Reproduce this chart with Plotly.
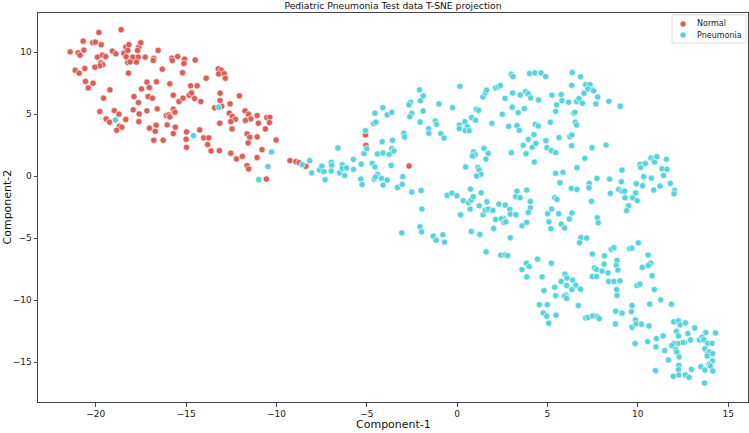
import plotly.graph_objects as go

# ---- data ----
normal_x = [
    -19.83, -18.60, -20.70, -20.17, -20.02, -19.70, -21.42, -20.98, -20.87, -20.66,
    -19.91, -19.63, -19.45, -19.72, -19.61, -19.78, -20.05, -19.08, -18.89, -18.45,
    -18.34, -18.17, -18.23, -18.32, -17.95, -17.62, -17.51, -17.69, -17.65, -17.75,
    -18.23, -18.10, -17.27, -16.79, -16.82, -16.55, -15.79, -15.77, -15.47, -15.09,
    -15.12, -14.50, -16.32, -15.20, -21.14, -20.92, -20.61, -18.19, -20.57, -20.15,
    -20.42, -19.22, -19.57, -17.17, -17.47, -17.04, -16.64, -15.90, -17.89, -17.64,
    -17.10, -16.86, -15.71, -14.75, -14.39, -19.78, -18.98, -18.72, -19.43, -19.24,
    -18.34, -18.69, -18.85, -18.56, -17.93, -17.60, -17.17, -17.62, -16.60, -16.10,
    -15.97, -15.90, -15.71, -15.62, -17.03, -16.66, -16.71, -16.05, -15.60, -15.71,
    -16.79, -16.27, -15.40, -15.17, -14.83, -14.70, -14.98, -15.00, -14.98, -14.53,
    -13.89, -13.22, -13.06, -13.20, -12.89, -12.83,
    -14.19, -13.12, -13.12, -13.03, -12.05, -13.42, -12.57, -12.61, -12.44, -12.27,
    -12.53, -13.14, -12.46, -14.25, -11.74, -11.55, -11.42, -11.72, -11.07, -11.00,
    -10.54, -10.37, -10.39, -10.61, -11.63, -11.48, -11.07, -11.57, -10.02, -14.03,
    -13.75, -13.81, -13.62, -13.16, -12.53, -12.22, -11.89, -11.07, -10.80, -11.63,
    -11.54, -10.56, -9.25, -8.93, -8.75, -8.38, -5.05, -5.07, -2.66,
]
normal_y = [
    11.60, 11.82, 10.90, 10.77, 10.82, 10.61, 10.04, 9.96, 9.77, 10.18,
    9.61, 9.77, 9.66, 9.15, 8.99, 8.91, 8.80, 10.10, 9.88, 9.93,
    10.42, 10.61, 10.15, 9.64, 9.61, 10.42, 10.77, 10.15, 9.61, 9.21,
    9.18, 9.23, 9.61, 9.50, 9.34, 10.15, 9.53, 9.34, 9.66, 9.45,
    9.10, 9.38, 8.64, 8.35, 8.56, 8.32, 8.70, 8.32, 7.65, 7.51,
    7.13, 6.97, 6.30, 7.59, 7.05, 7.16, 7.62, 7.46, 6.43, 5.95,
    6.43, 6.30, 6.54, 7.30, 7.30, 5.22, 5.30, 5.01, 4.63, 4.36,
    4.58, 4.04, 3.71, 3.96, 5.36, 5.03, 5.28, 4.41, 5.44, 4.90,
    4.95, 4.79, 5.41, 5.17, 3.88, 4.12, 3.63, 4.15, 3.96, 3.45,
    2.91, 2.91, 6.03, 6.30, 6.54, 6.73, 3.58, 2.99, 2.34, 6.27,
    7.91, 8.67, 8.56, 8.26, 8.26, 7.91,
    6.03, 6.70, 6.11, 5.65, 6.49, 5.52, 5.84, 5.09, 4.83, 4.60,
    4.41, 4.28, 3.82, 3.74, 5.28, 5.01, 4.63, 4.50, 4.90, 4.28,
    4.74, 4.76, 4.33, 3.82, 3.42, 3.15, 3.18, 2.69, 2.93, 3.10,
    3.10, 2.56, 2.05, 2.07, 1.86, 1.40, 1.61, 1.51, 2.15, 0.86,
    0.59, -0.22, 1.26, 1.18, 1.10, 0.81, 2.50, 3.34, 0.83,
]

pneu_x = [
    -18.91, -14.59,
    -13.20, -10.28, -10.48, -10.98, -8.58, -8.16, -8.05, -7.62, -7.49, -7.38,
    -7.31, -6.97, -6.94, -6.97, -6.60, -6.51, -6.36, -6.35, -6.12, -6.22,
    -5.74, -5.74, -5.31, -5.33, -5.26, -5.16, -5.07, -5.00, -4.70, -4.55,
    -4.63, -4.50, -4.55, -4.41, -4.59, -4.41, -4.52,
    -4.11, -3.87, -3.62, -4.15, -3.58, -4.10, -3.76, -3.62, -3.50, -3.65,
    -4.19, -3.87, -4.10, -3.01, -3.30, -3.04, -2.95, -2.91, -2.08, -1.88,
    -2.03, -2.58, -2.67, -2.51, -2.62, -1.88, -2.05, -1.01, -1.21, -1.14,
    -1.58, -1.57, -0.90, -0.73, -0.25, 0.15, 0.12, 0.12, 0.43, 0.56,
    0.45, 0.67, 0.80, 1.02, 1.06, 1.19, 1.43, 1.56, 1.63, 1.92,
    2.13, 2.29, 2.39, 2.65, 2.50, 2.85, 3.07, 3.05, 3.31, 3.38,
    3.44, 3.49, 3.72, 3.79, 3.94, 4.07, 4.01, 4.31, 4.64, 4.90,
    3.00, 3.09, 4.51, 4.33, 4.49, 4.25, 3.94, 3.66, 4.16, 4.36,
    4.27, 3.81, 3.00, 0.91, 1.00, 0.85, 1.48, 1.72, 1.59, 0.47,
    1.15, 1.22, 1.32, 1.08, 0.74, 4.92, 4.97, 5.21, 5.16, 5.25,
    5.45, 5.51, 5.64, 5.45, 5.45,
    6.37, 6.83, 6.34, 7.11, 7.35, 7.24, 7.50, 7.56, 7.02, 5.76,
    5.80, 6.17, 6.61, 6.74, 6.93, 7.78, 7.68, 8.40, 9.03, 6.45,
    6.52, 6.54, 6.61, 6.24, 6.35, 6.34, 7.46, 8.24, 7.07, 6.63,
    5.86, 5.69, 6.32, 6.63, 7.31, 7.30, 7.74, 8.44, 8.48, 9.12,
    9.09, 8.94, 9.12, 9.27, 9.29, 9.72, 9.88, 9.92, 10.27, 10.12,
    10.16, 10.42, 10.33, 10.73, 10.88, 10.93, 11.06, 10.75, 10.88, 11.23,
    11.34, 11.43, 11.58, 11.62, 11.80, 12.04, 12.01,
    -2.51, -1.99, -0.55, -0.29, -0.01, 0.34, 0.63, 0.78, 0.89, 1.33,
    1.65, 1.22, 0.72, 0.19, 1.43, 1.56, 1.72, 1.98, 2.31, 2.66,
    2.92, 2.94, 3.24, 3.48, 3.31, 3.85, 4.05, 4.05, 3.94, 3.25,
    2.57, 2.44, 2.13, 2.59, 2.70, 2.02, 0.78, 1.26, 2.94, 3.59,
    3.85, -1.95, -2.06, -1.97, -3.06, -1.32, -1.16, -0.79, -0.70, 1.61,
    2.42, 2.66, 2.79, 3.83, 3.99, 3.59, 3.85, 4.45, 5.21, 4.70,
    5.01, 5.23, 5.40, 5.53, 5.62, 5.08, 5.19, 4.81, 5.40, 5.45,
    4.55, 4.99,
    7.44, 9.49, 9.97, 9.38, 6.35, 6.21, 5.76, 5.95, 7.76, 7.81,
    6.85, 7.17, 6.78, 7.48, 8.16, 8.13, 8.53, 8.68, 8.85, 8.81,
    8.90, 9.55, 9.68, 10.03, 10.57, 10.71, 10.58, 10.25, 10.79, 7.60,
    7.72, 8.02, 8.35, 7.48, 7.72, 8.39, 8.68, 9.01, 8.83, 8.85,
    9.96, 10.12, 10.92, 11.27, 11.86, 10.66, 9.68, 5.97, 6.08, 6.39,
    6.56, 6.35, 6.06, 5.76, 6.83, 6.02, 5.95, 6.06, 6.71,
    4.77, 4.96, 5.07, 5.47, 7.12, 7.25, 7.50, 7.76, 7.87, 8.78,
    9.13, 9.65, 8.76, 9.68, 9.87, 9.90, 10.20, 10.62, 9.85, 10.55,
    11.03, 11.01, 11.40, 11.49, 11.70, 10.98, 11.99, 12.25, 12.34, 12.64,
    12.14, 12.25, 12.77, 13.15, 12.91, 12.60, 12.49, 12.21, 11.99, 11.88,
    12.10, 12.16, 12.29, 12.27, 12.25, 12.27, 11.97, 12.64, 12.84, 12.97,
    13.41, 13.56, 13.65, 13.76, 13.87, 14.11, 14.30, 13.71, 13.86, 13.99,
    14.15, 13.84, 14.13, 13.95, 14.02, 13.49, 13.71, 14.15, 13.69,
]
pneu_y = [
    4.55, 3.28,
    5.57, 1.96, 0.78, -0.27, 0.94, 1.26, 0.27, 0.51, 0.81, 0.38,
    -0.27, 1.13, 0.89, 0.43, 2.29, 0.27, 0.94, 0.64, 0.67, 0.05,
    1.37, 0.56, 0.99, -0.22, -0.67, 1.83, 3.69, 2.23, 1.05, 0.75,
    4.25, 4.36, 5.09, 1.80, -0.22, 0.16, -0.06,
    5.54, 4.95, 5.16, 2.79, 2.90, 1.88, 1.77, 2.23, 2.04, 0.88,
    -0.17, -0.30, -0.71, -0.03, -0.90, -0.65, 3.49, 3.17, 6.97, 6.48,
    6.10, 5.97, 5.76, 5.08, 4.81, 5.27, 4.38, 5.84, 4.46, 4.19,
    3.84, 3.47, 3.44, 3.09, 5.54, 7.26, 4.14, 3.84, 4.41, 4.00,
    3.68, 3.68, 4.73, 4.52, 5.41, 5.32, 6.40, 6.72, 6.94, 4.27,
    7.13, 7.21, 7.32, 6.29, 5.00, 4.03, 6.72, 5.57, 4.09, 5.14,
    3.71, 6.56, 5.46, 6.83, 6.64, 6.32, 8.29, 8.34, 8.34, 8.04,
    8.23, 8.04, 6.16, 4.19, 4.06, 3.36, 2.98, 2.50, 2.34, 2.66,
    1.15, 1.82, 1.90, 1.96, 1.74, 1.64, 2.26, 1.85, 1.39, 0.75,
    0.72, 0.51, 0.16, 0.02, -1.03, 2.87, 2.31, 2.07, 4.36, 6.54,
    5.24, 5.76, 3.12, 1.91, 0.24,
    8.37, 8.02, 7.34, 7.40, 7.40, 7.05, 6.97, 6.89, 6.70, 6.59,
    6.10, 5.97, 6.02, 6.27, 5.89, 6.40, 5.84, 6.05, 5.65, 5.08,
    5.16, 4.36, 4.14, 3.20, 3.33, 2.47, 2.31, 2.52, 1.45, 0.69,
    0.32, -0.52, -0.98, -1.06, -0.57, -0.92, -0.17, -0.22, -1.38, 0.50,
    -0.44, -1.06, -1.19, -1.19, -1.73, -1.73, -1.33, -0.60, -0.76, 0.96,
    0.72, 1.04, -0.03, 1.47, 1.31, 1.15, 1.58, -0.14, -1.11, -0.79,
    0.61, 0.07, 1.37, 0.56, -0.57, -1.14, -1.41,
    -1.27, -1.14, -1.54, -1.35, -1.57, -1.97, -2.13, -1.92, -1.65, -1.33,
    -2.05, -2.38, -2.64, -3.10, -3.10, -2.73, -2.64, -2.75, -2.24, -2.32,
    -2.67, -3.05, -1.65, -1.73, -1.19, -1.11, -2.03, -2.54, -2.91, -3.10,
    -3.40, -3.43, -3.48, -3.72, -3.67, -4.21, -4.45, -4.69, -4.96, -3.99,
    -3.72, -2.64, -4.07, -4.48, -4.56, -4.83, -5.15, -4.72, -5.31, -6.09,
    -6.36, -6.33, -6.39, -7.01, -7.28, -7.52, -8.11, -6.68, -7.01, -8.11,
    -3.02, -2.64, -1.73, -1.86, -3.02, -3.67, -4.23, -9.21, -8.95, -9.62,
    -10.35, -10.35,
    -2.02, -2.39, -1.96, -2.77, -2.96, -3.44, -3.85, -4.17, -3.34, -3.74,
    -4.93, -4.98, -5.36, -6.27, -6.41, -7.08, -5.89, -5.76, -6.78, -7.19,
    -7.56, -5.84, -5.79, -5.36, -6.35, -7.00, -7.19, -7.35, -8.02, -7.38,
    -7.51, -7.64, -7.78, -8.08, -8.08, -8.48, -8.48, -8.43, -9.13, -9.61,
    -8.80, -8.70, -9.13, -9.96, -10.31, -10.31, -10.42, -7.89, -8.21, -8.37,
    -8.78, -9.13, -8.80, -8.48, -9.10, -9.56, -9.66, -9.85, -10.42,
    -11.02, -11.28, -11.85, -11.20, -11.42, -11.39, -11.26, -11.31, -11.47, -10.88,
    -11.04, -10.91, -11.90, -12.17, -11.58, -11.90, -11.93, -12.07, -13.49, -13.33,
    -13.09, -13.76, -12.87, -14.06, -14.81, -15.67, -11.74, -11.66, -11.98, -11.82,
    -12.50, -12.87, -12.68, -12.23, -13.20, -13.41, -13.41, -13.49, -13.49, -13.65,
    -13.95, -14.17, -14.57, -15.24, -15.59, -16.02, -16.13, -16.02, -16.21, -15.57,
    -13.20, -12.98, -13.17, -12.60, -13.47, -13.47, -12.63, -13.90, -14.25, -14.17,
    -14.30, -14.49, -14.89, -15.16, -15.30, -15.35, -15.62, -15.70, -16.67,
]

x_ticks = [-20, -15, -10, -5, 0, 5, 10, 15]
y_ticks = [-15, -10, -5, 0, 5, 10]
series_names = ["Normal", "Pneumonia"]

RED = "#db5f57"
CYAN = "#57d3db"
COLORS = [RED, CYAN]
FONT = "DejaVu Sans"

W, H = 749, 433
ML, MR, MT, MB = 38, 1, 13, 31
PW, PH = W - ML - MR, H - MT - MB


def px_x(p):  # pixel -> paper x
    return (p - ML) / PW


def px_y(p):  # pixel -> paper y
    return (H - MB - p) / PH


fig = go.Figure()
for name, xs, ys, col in zip(series_names, [normal_x, pneu_x], [normal_y, pneu_y], COLORS):
    fig.add_trace(go.Scatter(
        x=xs, y=ys, mode="markers", name=name,
        marker=dict(color=col, size=6.3, line=dict(color="white", width=0.6)),
    ))

axis_common = dict(
    showgrid=False, zeroline=False, showline=True, linecolor="#444", linewidth=1,
    mirror=True, ticks="outside", ticklen=3.5, tickwidth=0.8, tickcolor="#444",
    tickfont=dict(family=FONT, size=9, color="#222"),
)

# legend (matplotlib-style compact box)
shapes = [dict(type="rect", xref="paper", yref="paper",
               x0=px_x(672), x1=px_x(746), y0=px_y(43), y1=px_y(15),
               line=dict(color="#d4d4d4", width=0.8), fillcolor="white", layer="above")]
annotations = []
for i, (name, col) in enumerate(zip(series_names, COLORS)):
    cy = 24 + 11 * i
    shapes.append(dict(type="circle", xref="paper", yref="paper",
                       xsizemode="pixel", ysizemode="pixel",
                       xanchor=px_x(683), yanchor=px_y(cy),
                       x0=-3, x1=3, y0=-3, y1=3,
                       fillcolor=col, line=dict(color="white", width=0.5), layer="above"))
    annotations.append(dict(text=name, xref="paper", yref="paper",
                            x=px_x(695), y=px_y(cy), xanchor="left", yanchor="middle",
                            showarrow=False, font=dict(family=FONT, size=8, color="#222")))

annotations += [
    dict(text="Component-1", xref="paper", yref="paper", x=0.5, y=0,
         yshift=-22, xanchor="center", yanchor="middle", showarrow=False,
         font=dict(family=FONT, size=11, color="#111")),
    dict(text="Component-2", xref="paper", yref="paper", x=0, y=0.5,
         xshift=-31, xanchor="center", yanchor="middle", textangle=-90,
         showarrow=False, font=dict(family=FONT, size=11, color="#111")),
]

fig.update_layout(
    width=W, height=H,
    margin=dict(l=ML, r=MR, t=MT, b=MB),
    paper_bgcolor="white", plot_bgcolor="white",
    font=dict(family=FONT, color="#222"),
    title=dict(text="Pediatric Pneumonia Test data T-SNE projection",
               x=(ML + PW / 2) / W, xanchor="center", y=1 - 5.5 / H, yanchor="middle",
               font=dict(family=FONT, size=9.2, color="#111")),
    xaxis=dict(range=[-23.2, 16.1], tickvals=x_ticks, **axis_common),
    yaxis=dict(range=[-18.2, 13.17], tickvals=y_ticks, **axis_common),
    showlegend=False,
    shapes=shapes,
    annotations=annotations,
)

fig.write_html("out.html", config={"displayModeBar": False},
               post_script="document.body.style.margin='0';")
